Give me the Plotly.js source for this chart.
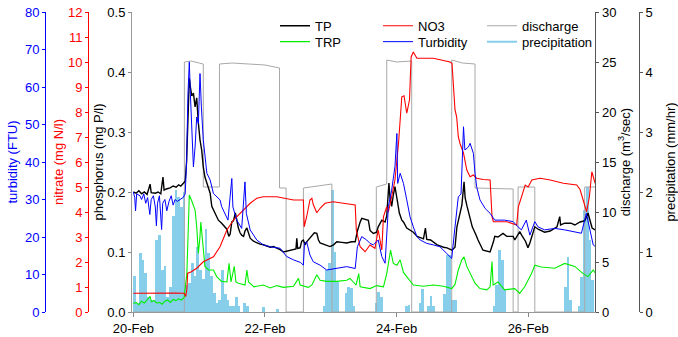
<!DOCTYPE html>
<html><head><meta charset="utf-8">
<script src="https://cdn.plot.ly/plotly-3.0.1.min.js"></script>
<style>html,body{margin:0;padding:0;background:#fff;}#chart{width:678px;height:337px;}</style>
</head><body><div id="chart"></div>
<script>
// hours since 20-Feb 00:00
const tickLabelsHours = [0, 48, 96, 144];

const tpHour = [0,1,2,3,4,5,6.1,6.5,8,9,10,10.8,11.2,12,13.4,14.5,15.6,16.5,17.3,18.1,18.9,19.4,19.9,20.4,20.8,21.3,21.9,22.5,23.1,23.4,23.7,24.3,24.9,25.5,26.1,26.8,27.4,28.0,28.6,29.2,29.8,30.4,31.0,32.2,32.7,33.5,34.1,34.8,35.3,35.9,36.5,37.2,37.7,38.3,38.9,39.5,40.2,40.7,41.4,42.0,42.6,43.8,45.0,46.2,47.4,48.7,49.9,51.1,52.3,53.5,54.7,55.9,57.2,58.4,59.3,59.6,59.9,60.8,61.4,62.0,62.6,63.2,64.4,65.1,66.0,66.9,67.5,68.1,69.9,71.7,73.0,74.2,76.0,77.8,79.6,80.9,81.7,82.1,82.7,83.3,84.5,85.7,86.3,87.5,88.7,89.3,90.6,91.8,92.4,93.2,93.6,94.2,94.8,95.4,96.1,97.0,97.9,98.5,99.7,100.9,102.1,103.5,105.8,106.5,107.0,108.4,110.8,113.1,114.4,116.2,117.3,118.0,119.0,119.8,120.6,121.0,121.7,122.8,123.6,125.0,125.7,127.5,128.9,130.1,131.3,131.8,133.0,134.8,136.2,138.5,139.1,140.9,141.6,143.0,143.9,144.6,146.4,147.6,150.0,152.0,154.5,155.5,155.8,157.3,159.6,161.0,162.9,164.6,165.8,166.5,167.3,168.4];
const tpValue = [0.200,0.198,0.202,0.197,0.200,0.196,0.213,0.199,0.198,0.200,0.197,0.225,0.203,0.205,0.207,0.210,0.208,0.212,0.210,0.214,0.218,0.25,0.34,0.39,0.375,0.36,0.365,0.342,0.357,0.33,0.315,0.287,0.27,0.242,0.225,0.215,0.205,0.198,0.176,0.170,0.165,0.16,0.153,0.148,0.145,0.142,0.138,0.126,0.13,0.15,0.152,0.165,0.150,0.14,0.132,0.128,0.126,0.135,0.14,0.13,0.123,0.118,0.115,0.113,0.112,0.110,0.108,0.109,0.107,0.104,0.100,0.101,0.102,0.103,0.105,0.123,0.106,0.107,0.118,0.120,0.112,0.117,0.124,0.128,0.132,0.131,0.120,0.115,0.112,0.109,0.112,0.117,0.116,0.115,0.117,0.117,0.135,0.142,0.150,0.156,0.154,0.153,0.136,0.131,0.133,0.142,0.153,0.150,0.160,0.215,0.19,0.176,0.195,0.209,0.19,0.165,0.153,0.150,0.140,0.137,0.133,0.126,0.122,0.14,0.121,0.120,0.112,0.108,0.107,0.103,0.108,0.142,0.165,0.178,0.217,0.19,0.176,0.155,0.142,0.128,0.120,0.103,0.101,0.100,0.117,0.126,0.125,0.131,0.126,0.126,0.120,0.134,0.128,0.118,0.107,0.115,0.142,0.138,0.133,0.135,0.142,0.159,0.145,0.148,0.148,0.145,0.150,0.152,0.165,0.155,0.14,0.137];

const trpHour = [0,1,2,3,4,5,6.1,6.6,7.5,8.5,9.5,10.5,11.5,12.5,13.5,14.5,15.5,16.5,17.5,18.5,19.5,20.1,20.4,21.3,22.5,23.1,23.7,24.3,24.6,25.2,26.1,27.4,29.2,30.4,32.2,34.1,34.9,35.6,36.8,37.4,38.3,40.7,41.4,42,42.6,44,47.4,49.9,52.3,54.7,58.4,60.2,60.8,63.8,65.1,66.9,68.1,70.5,74.2,77.8,79,81.2,82.2,82.7,86.3,88.7,91.2,92.4,93.8,94.8,96.1,97.3,98.5,100.3,102.1,105.8,109.4,113.1,116.1,117.3,118.5,119.8,120.6,121.6,122.8,124.6,126.4,128.9,130.1,130.8,131.2,133.0,135.4,139.1,140.9,142.7,145.2,146.4,148.8,153.7,157.3,161.0,164.0,165.8,167.7,168.4];
const trpValue = [0.014,0.016,0.012,0.018,0.015,0.02,0.026,0.017,0.019,0.015,0.016,0.013,0.018,0.02,0.016,0.021,0.019,0.022,0.02,0.024,0.064,0.15,0.195,0.185,0.17,0.142,0.098,0.126,0.15,0.12,0.076,0.07,0.07,0.059,0.051,0.05,0.081,0.05,0.076,0.05,0.048,0.045,0.07,0.05,0.048,0.042,0.045,0.04,0.044,0.041,0.043,0.056,0.045,0.041,0.045,0.062,0.053,0.051,0.051,0.053,0.056,0.045,0.064,0.042,0.039,0.044,0.042,0.064,0.103,0.081,0.078,0.087,0.066,0.056,0.045,0.043,0.045,0.043,0.039,0.046,0.07,0.087,0.092,0.076,0.065,0.048,0.039,0.037,0.042,0.084,0.045,0.05,0.037,0.039,0.031,0.042,0.064,0.078,0.075,0.073,0.081,0.076,0.064,0.059,0.07,0.065];

const no3Hour = [0,5,10,15,18.5,19.1,19.5,19.8,21,23.1,25.5,29.2,31.6,34.1,36.5,38.9,42.6,45.0,47.4,52.3,54.7,58.4,62.0,62.3,63.2,64.4,65.1,65.6,66.9,68.1,69.9,72.9,76.6,80.9,81.3,82.1,82.7,84.5,86.3,88.1,89.3,90.6,91.2,92.4,93.0,94.2,95.4,96.7,97.9,98.7,99.7,100.7,101.3,102.1,103.4,109.4,115.5,116.2,117.3,117.9,118.5,119.1,120.4,121.6,122.8,124.0,125.2,127.6,130.1,130.8,131.3,136.2,139.8,140.4,141.6,142.9,144.0,145.3,148.3,152.0,156.8,161.7,162.9,164.1,165.3,166.3,167.2,168.4];
const no3Value = [0.75,0.76,0.75,0.76,0.75,0.62,0.9,1.55,1.6,1.75,2.01,2.21,2.61,3.28,3.68,3.95,4.35,4.55,4.61,4.61,4.55,4.48,4.48,3.41,3.81,4.48,4.55,4.3,3.97,4.15,4.35,4.41,4.35,4.28,3.28,2.88,2.61,2.41,2.68,2.55,3.28,2.48,3.81,4.21,4.0,4.61,5.28,6.75,8.61,8.65,7.95,8.48,10.2,10.4,10.15,10.15,10.0,9.95,8.08,7.81,7.01,6.75,6.35,5.68,5.41,5.48,5.35,5.3,5.28,3.81,3.61,3.61,3.48,4.21,4.61,5.08,5.0,5.28,5.35,5.28,5.15,5.08,4.9,4.48,4.01,4.6,5.61,5.15];

const turbHour = [0,0.5,0.8,1.2,2.4,3,3.8,4.5,5.2,6,6.5,7.3,8,8.4,8.8,9.5,10.3,10.7,11.5,12.2,13,13.8,14.5,15.2,16,17,18.1,18.9,19.4,19.9,20.4,20.8,21.3,21.9,22.5,23.1,23.7,24.3,24.8,25.5,26.8,28.0,29.2,31.6,32.2,34.5,35.9,36.3,37.7,39.5,40.7,41.2,42.6,43.8,45.0,47.4,49.9,53.5,55.9,58.4,61.0,62.0,62.4,63.2,64.4,65.6,68.1,70.5,74.2,77.8,80.9,81.7,83.3,85.1,86.3,87.5,89.3,90.6,91.8,93.0,94.2,95.4,96.1,96.4,97.3,98.5,99.7,100.9,102.1,103.4,104.6,107.0,109.4,111.8,114.3,116.1,117.3,118.5,119.5,120.4,120.9,122.2,122.8,124.0,124.6,125.2,126.4,128.3,130.1,131.8,135.4,138.5,140.3,141.5,143.3,144.6,146.4,147.6,150.0,153.7,157.3,161.0,163.4,165.2,166.5,167.7,168.4];
const turbValue = [32,30.5,27,31.5,31,30,31.5,29,30.5,26,30,31,28,23,29,31,22,29,30,27,29.5,31,28.5,30,29.5,30,30.5,31.5,40,58,66.7,58,49.4,38.7,44,52,50.3,63.6,54.7,45.9,37,35.2,31.6,29.9,28.1,24.5,35.6,28,24.5,22.3,34.7,26.3,21.9,20.5,19.2,17.9,17.4,17.0,14.8,13.9,13.2,12.5,18.3,18.7,15.2,13.4,12.5,11.2,11.6,12.1,11.6,17.4,20.1,19.2,18.3,17.9,19.2,14.8,13,28.1,32.5,38.8,47.6,34.3,37,34.3,29.9,25.4,22.7,20.1,19.2,18.3,17.9,17.4,15.6,14.3,22.7,30.7,31.5,49.4,43.2,44,45,42.3,37,33.4,29.9,27.6,26.3,24.5,24.5,24.1,22.7,21.9,24.5,20.5,24.1,22.7,21.9,22.3,21.9,21.4,21.0,26.3,21.9,17.9,17.5];

const dischargeHour = [0,18.6,18.6,21,24,25.5,25.5,31.4,31.4,36,42,48,53.3,53.3,55.7,55.7,62.0,62.0,72.4,72.4,88.6,88.6,92.4,92.4,96,101.5,101.5,116.1,116.1,120,124.6,124.6,138.5,138.5,140.3,140.3,146.4,146.4,164.6,164.6,168.4];
const dischargeValue = [0,0,25.0,25.1,24.9,24.8,12.5,12.5,24.8,24.9,24.8,24.7,24.4,12.4,12.4,0,0,12.4,12.8,0,0,12.5,12.8,25.2,25.0,25.1,0,0,25.2,24.9,24.8,12.4,12.3,0,0,12.5,12.5,0,0,12.5,12.5];

const precipHour = [0,1,2,3,4,5,6,7,8,9,10,11,12,13,14,15,16,17,18,19,20,21,22,23,24,25,26,27,28,29,30,31,32,33,34,35,36,37,38,40,41,47,52,69,70,71,72,73,74,77,78,79,80,88,89,90,99,100,104,105,107,108,109,113,114,115,116,117,131,132,133,134,135,157,158,159,162,163,164,165,166,167];
const precipValue = [0.6,0.15,0.98,0.87,0.65,0.25,0.2,0.2,1.2,1.28,0.7,0.76,0.25,0.42,1.6,2.03,1.92,1.75,2.0,0.45,0.48,0.81,0.6,1.09,0.7,0.55,1.39,0.98,0.6,0.32,0.15,0.2,0.7,0.3,0.2,0.1,0.1,0.25,0.1,0.15,0.1,0.09,0.05,0.1,0.7,0.81,2.03,1.0,0.5,0.31,0.42,0.4,0.1,0.15,0.34,0.25,0.1,0.12,0.15,0.39,0.1,0.26,0.1,0.3,0.95,0.95,0.2,0.2,0.1,0.45,1.03,0.87,0.37,0.42,0.92,0.2,0.1,0.59,1.7,2.09,1.2,0.53];

const HOUR = 3600000;
const base = Date.UTC(2021, 1, 20);
const toX = h => base + h * HOUR;

const W = 678;
const FONT = 'Liberation Sans, Arial, sans-serif';

const traces = [
  {type:'bar', x: precipHour.map(h => toX(h + 0.5)), y: precipValue, width: HOUR,
   marker:{color:'#87CEEB', line:{width:0}}, yaxis:'y', showlegend:false, name:'precipitation', hoverinfo:'skip'},
  {type:'scatter', mode:'lines', x: dischargeHour.map(toX), y: dischargeValue, yaxis:'y2',
   line:{color:'#A8A8A8', width:1}, name:'discharge', legend:'legend5'},
  {type:'scatter', mode:'lines', x: tpHour.map(toX), y: tpValue, yaxis:'y3',
   line:{color:'#000000', width:1.4}, name:'TP', legend:'legend'},
  {type:'scatter', mode:'lines', x: trpHour.map(toX), y: trpValue, yaxis:'y3',
   line:{color:'#00EE00', width:1.1}, name:'TRP', legend:'legend2'},
  {type:'scatter', mode:'lines', x: no3Hour.map(toX), y: no3Value, yaxis:'y4',
   line:{color:'#FF0000', width:1.1}, name:'NO3', legend:'legend3'},
  {type:'scatter', mode:'lines', x: turbHour.map(toX), y: turbValue, yaxis:'y5',
   line:{color:'#0000FF', width:1}, name:'Turbidity', legend:'legend4'},
  {type:'scatter', mode:'lines', x:[null], y:[null], yaxis:'y',
   line:{color:'#87CEEB', width:2}, name:'precipitation', legend:'legend6'}
];

const axisBase = {showgrid:false, zeroline:false, showline:true, ticks:'outside', ticklen:3, linewidth:1,
  tickfont:{size:13, family:FONT}, fixedrange:true};

const legendBase = {xanchor:'left', yanchor:'top', bgcolor:'rgba(0,0,0,0)', borderwidth:0,
  font:{size:13, family:FONT, color:'#000'}, orientation:'v'};
const row1 = 1.004, row2 = 0.951;
const col1 = 275/W, col2 = 378/W, col3 = 482/W;

const layout = {
  width: W, height: 337,
  margin:{l:0, r:0, t:12, b:25},
  paper_bgcolor:'#fff', plot_bgcolor:'rgba(0,0,0,0)',
  font:{family:FONT, size:13, color:'#000'},
  bargap:0,
  xaxis: Object.assign({}, axisBase, {
    type:'date', domain:[132/W, 595.4/W], range:[toX(-0.5), toX(168.5)],
    tickvals: tickLabelsHours.map(toX), tickformat:'%d-%b', ticklen:4,
    linecolor:'#999', tickcolor:'#888', anchor:'y'
  }),
  yaxis: Object.assign({}, axisBase, {
    range:[0,5], dtick:1, side:'right', anchor:'free', position:639/W,
    linecolor:'#555', tickcolor:'#555',
    title:{text:'precipitation (mm/hr)', standoff:14, font:{size:13, family:FONT}}
  }),
  yaxis2: Object.assign({}, axisBase, {
    range:[0,30], dtick:5, side:'right', anchor:'x', overlaying:'y',
    linecolor:'#555', tickcolor:'#555',
    title:{text:'discharge (m<sup>3</sup>/sec)', standoff:3, font:{size:13, family:FONT}}
  }),
  yaxis3: Object.assign({}, axisBase, {
    range:[0,0.5], dtick:0.1, tickformat:'.1f', side:'left', anchor:'x', overlaying:'y',
    linecolor:'#999', tickcolor:'#888',
    title:{text:'phosphorus (mg P/l)', standoff:0, font:{size:13, family:FONT}}
  }),
  yaxis4: Object.assign({}, axisBase, {
    range:[0,12], dtick:1, side:'left', anchor:'free', position:88/W, overlaying:'y',
    linecolor:'#FF0000', tickcolor:'#FF0000', tickfont:{size:13, family:FONT, color:'#FF0000'},
    title:{text:'nitrate (mg N/l)', standoff:0, font:{size:13, family:FONT, color:'#FF0000'}}
  }),
  yaxis5: Object.assign({}, axisBase, {
    range:[0,80], dtick:10, side:'left', anchor:'free', position:45/W, overlaying:'y',
    linecolor:'#0000FF', tickcolor:'#0000FF', tickfont:{size:13, family:FONT, color:'#0000FF'},
    title:{text:'turbidity (FTU)', standoff:3, font:{size:13, family:FONT, color:'#0000FF'}}
  }),
  legend: Object.assign({}, legendBase, {x:col1, y:row1}),
  legend2: Object.assign({}, legendBase, {x:col1, y:row2}),
  legend3: Object.assign({}, legendBase, {x:col2, y:row1}),
  legend4: Object.assign({}, legendBase, {x:col2, y:row2}),
  legend5: Object.assign({}, legendBase, {x:col3, y:row1}),
  legend6: Object.assign({}, legendBase, {x:col3, y:row2}),
  showlegend:true
};

Plotly.newPlot('chart', traces, layout, {staticPlot:true, displayModeBar:false});
</script></body></html>
